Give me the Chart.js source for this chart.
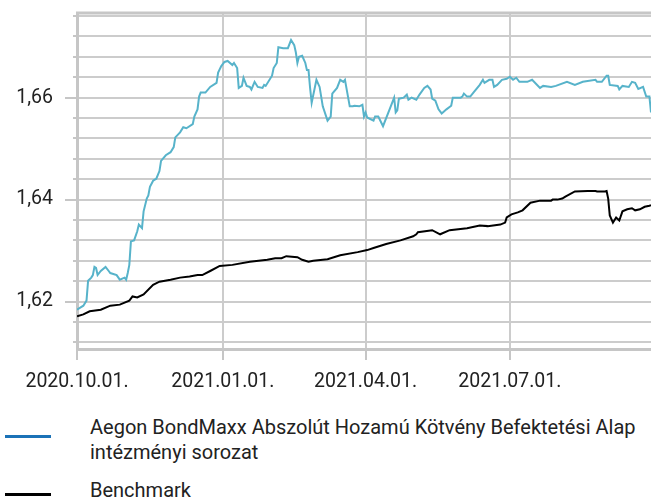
<!DOCTYPE html>
<html>
<head>
<meta charset="utf-8">
<script src="https://cdn.jsdelivr.net/npm/chart.js@4.4.0/dist/chart.umd.min.js"></script>
<style>
  body { margin: 0; background: #fff; width: 651px; height: 498px; overflow: hidden; position: relative; font-family: Roboto, sans-serif; }
  #wrap { position: absolute; left: 0; top: 0; width: 651px; height: 400px; }
  .lg-line { position: absolute; left: 5px; width: 46px; height: 3px; }
  .lg-text { position: absolute; left: 90px; font-size: 20px; line-height: 25px; color: #222; white-space: nowrap; }
</style>
</head>
<body>
<div id="wrap"><canvas id="myChart" width="651" height="400"></canvas></div>
<div class="lg-line" style="top:435px;background:#1b72b7"></div>
<div class="lg-text" style="top:415px">Aegon BondMaxx Abszolút Hozamú Kötvény Befektetési Alap<br>intézményi sorozat</div>
<div class="lg-line" style="top:493px;background:#000"></div>
<div class="lg-text" style="top:478px">Benchmark</div>
<script>
// napok 2020.10.01-tol
const fundDay = [0,4,6,7,9,10,11,12,13,15,18,20,21,25,27,30,31,32,33,34,36,38,39,41,42,44,45,46,48,50,52,53,56,59,61,62,65,67,69,73,74,76,77,78,81,84,88,89,91,93,95,98,99,101,102,104,105,107,109,110,112,114,117,118,119,123,124,126,127,130,133,135,137,138,139,140,142,144,145,146,147,148,151,153,155,158,160,161,164,166,168,169,172,174,175,178,180,181,182,183,187,188,190,193,198,200,201,202,203,206,208,209,211,214,216,219,221,223,224,226,228,230,233,236,237,242,243,244,246,248,250,254,256,257,260,262,263,265,268,271,273,275,277,279,284,287,292,294,299,302,309,314,319,327,328,331,334,335,336,341,342,344,348,350,352,354,357,359,361,362];
const fundValue = [1.6184,1.6192,1.6202,1.6241,1.6247,1.6252,1.6268,1.6266,1.6252,1.6260,1.6268,1.6260,1.6256,1.6252,1.6243,1.6247,1.6243,1.6256,1.6272,1.6318,1.6320,1.6338,1.6351,1.6344,1.6377,1.6402,1.6408,1.6425,1.6437,1.6441,1.6456,1.6476,1.6487,1.6493,1.6503,1.6522,1.6532,1.6542,1.6540,1.6548,1.6563,1.6577,1.6602,1.6610,1.6610,1.6621,1.6629,1.6649,1.6662,1.6670,1.6672,1.6664,1.6668,1.6658,1.6619,1.6623,1.6639,1.6623,1.6621,1.6616,1.6631,1.6621,1.6619,1.6625,1.6623,1.6643,1.6658,1.6668,1.6699,1.6697,1.6697,1.6713,1.6703,1.6689,1.6668,1.6680,1.6682,1.6668,1.6654,1.6654,1.6619,1.6590,1.6635,1.6621,1.6583,1.6555,1.6563,1.6608,1.6619,1.6635,1.6631,1.6635,1.6583,1.6583,1.6584,1.6583,1.6586,1.6563,1.6571,1.6561,1.6555,1.6563,1.6563,1.6544,1.6584,1.6600,1.6571,1.6575,1.6598,1.6600,1.6606,1.6596,1.6600,1.6596,1.6606,1.6619,1.6623,1.6616,1.6598,1.6594,1.6577,1.6569,1.6577,1.6584,1.6600,1.6600,1.6602,1.6608,1.6602,1.6602,1.6610,1.6625,1.6635,1.6629,1.6635,1.6635,1.6621,1.6625,1.6635,1.6637,1.6641,1.6635,1.6639,1.6631,1.6631,1.6635,1.6619,1.6623,1.6621,1.6623,1.6631,1.6625,1.6631,1.6635,1.6631,1.6631,1.6643,1.6643,1.6625,1.6623,1.6616,1.6623,1.6621,1.6631,1.6629,1.6617,1.6621,1.6602,1.6602,1.6571];

const benchDay = [0,4,8,15,21,27,33,35,38,42,48,52,59,65,71,76,79,84,90,98,109,120,125,129,132,139,142,146,149,158,166,177,183,187,195,204,212,214,215,224,229,235,246,254,259,267,270,271,274,278,281,286,292,296,299,300,303,306,308,314,322,327,328,333,334,335,336,338,340,342,344,347,350,352,355,358,361,362];
const benchValue = [1.6171,1.6175,1.6181,1.6184,1.6192,1.6194,1.6202,1.6210,1.6208,1.6214,1.6233,1.6239,1.6243,1.6247,1.6249,1.6252,1.6252,1.6260,1.6270,1.6272,1.6278,1.6282,1.6285,1.6285,1.6289,1.6287,1.6282,1.6278,1.6280,1.6283,1.6291,1.6297,1.6301,1.6305,1.6313,1.6320,1.6328,1.6332,1.6336,1.6340,1.6332,1.6340,1.6344,1.6349,1.6348,1.6351,1.6355,1.6365,1.6371,1.6375,1.6379,1.6394,1.6398,1.6398,1.6398,1.6400,1.6400,1.6402,1.6406,1.6416,1.6417,1.6417,1.6416,1.6416,1.6417,1.6402,1.6369,1.6355,1.6365,1.6359,1.6377,1.6381,1.6383,1.6379,1.6381,1.6386,1.6388,1.6389];

const xTickDays = [0, 92, 182, 273];
const xTickLabels = ['2020.10.01.', '2021.01.01.', '2021.04.01.', '2021.07.01.'];
const yGrid = [1.612,1.616,1.620,1.624,1.628,1.632,1.636,1.640,1.644,1.648,1.652,1.656,1.660,1.664,1.668,1.672,1.676];
const yMajor = [1.62, 1.64, 1.66];
const yLabels = ['1,62', '1,64', '1,66'];

const GRID = '#cccccc';
const AXIS = '#c6c6c6';

function majorIndex(v) {
    for (let i = 0; i < yMajor.length; i++) {
        if (Math.abs(v - yMajor[i]) < 0.0005) return i;
    }
    return -1;
}

// keret teteje + tick jelek
const axisDeco = {
    id: 'axisDeco',
    beforeDatasetsDraw(chart) {
        const ctx = chart.ctx;
        const a = chart.chartArea;
        const y = chart.scales.y;
        const x = chart.scales.x;
        ctx.save();
        ctx.strokeStyle = AXIS;
        ctx.lineWidth = 3;
        ctx.beginPath();
        ctx.moveTo(a.left - 1, a.top);
        ctx.lineTo(a.right, a.top);
        ctx.stroke();
        ctx.lineWidth = 2;
        yGrid.forEach(function (v) {
            const py = Math.round(y.getPixelForValue(v));
            const len = majorIndex(v) >= 0 ? 12 : 4;
            ctx.beginPath();
            ctx.moveTo(a.left - len, py);
            ctx.lineTo(a.left, py);
            ctx.stroke();
        });
        xTickDays.forEach(function (d) {
            const px = Math.round(x.getPixelForValue(d));
            ctx.beginPath();
            ctx.moveTo(px, a.bottom);
            ctx.lineTo(px, a.bottom + 11);
            ctx.stroke();
        });
        ctx.restore();
    }
};

const CHART = document.getElementById('myChart');
const myChart = new Chart(CHART, {
    type: 'line',
    data: {
        datasets: [{
            label: 'Aegon BondMaxx Abszolút Hozamú Kötvény Befektetési Alap intézményi sorozat',
            data: fundDay.map((d, i) => ({ x: d, y: fundValue[i] })),
            borderColor: '#57b3ca',
            borderWidth: 2,
            pointRadius: 0,
            tension: 0
        }, {
            label: 'Benchmark',
            data: benchDay.map((d, i) => ({ x: d, y: benchValue[i] })),
            borderColor: '#000000',
            borderWidth: 2,
            pointRadius: 0,
            tension: 0
        }]
    },
    options: {
        responsive: false,
        animation: false,
        devicePixelRatio: 1,
        layout: { padding: { top: 13, left: 0, right: 0, bottom: 0 } },
        plugins: { legend: { display: false }, tooltip: { enabled: false } },
        scales: {
            x: {
                type: 'linear',
                min: 0,
                max: 362,
                afterBuildTicks: function (scale) {
                    scale.ticks = xTickDays.map(v => ({ value: v }));
                },
                afterFit: function (scale) {
                    scale.height = 51;
                    scale.paddingLeft = 0;
                    scale.paddingRight = 0;
                },
                grid: { color: GRID, lineWidth: 2, drawTicks: false },
                border: { color: AXIS, width: 3 },
                ticks: {
                    autoSkip: false,
                    maxRotation: 0,
                    padding: 21,
                    color: '#222',
                    font: { family: 'Roboto', size: 19.5 },
                    callback: function (v) {
                        const i = xTickDays.indexOf(v);
                        return i >= 0 ? xTickLabels[i] : '';
                    }
                }
            },
            y: {
                min: 1.6107,
                max: 1.6766,
                afterBuildTicks: function (scale) {
                    scale.ticks = yGrid.map(v => ({ value: v }));
                },
                afterFit: function (scale) {
                    scale.width = 77;
                    scale.paddingTop = 0;
                    scale.paddingBottom = 0;
                },
                grid: { color: GRID, lineWidth: 2, drawTicks: false },
                border: { color: AXIS, width: 3 },
                ticks: {
                    autoSkip: false,
                    padding: 24,
                    color: '#222',
                    font: { family: 'Roboto', size: 19.5 },
                    callback: function (v) {
                        const i = majorIndex(v);
                        return i >= 0 ? yLabels[i] : '';
                    }
                }
            }
        }
    },
    plugins: [axisDeco]
});
</script>
</body>
</html>
